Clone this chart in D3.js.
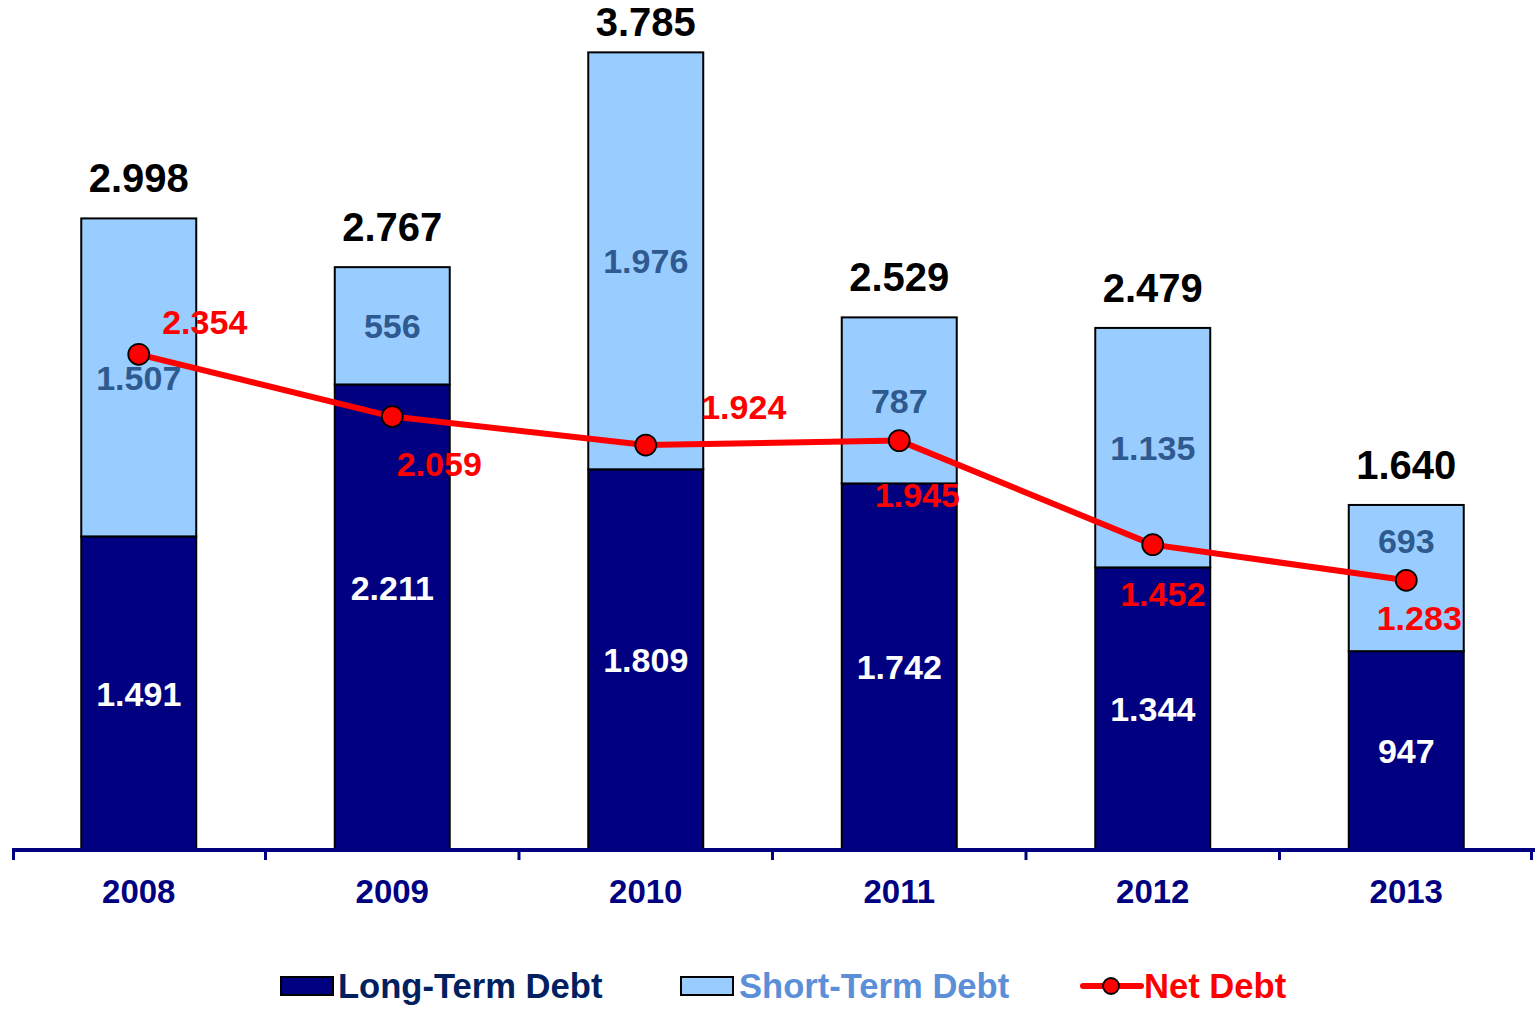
<!DOCTYPE html>
<html>
<head>
<meta charset="utf-8">
<script src="https://cdn.jsdelivr.net/npm/d3@7"></script>
<style>
  html, body { margin: 0; padding: 0; background: #ffffff; }
  svg { display: block; font-family: "Liberation Sans", Arial, Helvetica, sans-serif; font-weight: bold; }
</style>
</head>
<body>
<svg id="chart" width="1537" height="1009"></svg>
<script>
// Debt structure by year (values in millions, shown with "." thousands separator)
const years = ["2008", "2009", "2010", "2011", "2012", "2013"];
const longTermDebt = [1491, 2211, 1809, 1742, 1344, 947];
const shortTermDebt = [1507, 556, 1976, 787, 1135, 693];
const totalDebt = [2998, 2767, 3785, 2529, 2479, 1640];
const netDebt = [2354, 2059, 1924, 1945, 1452, 1283];

// Label placement tweaks (pixels): net debt labels relative to each marker,
// and vertical nudges for segment labels that would collide with the line
const netLabelOffsets = [[66, -33], [47, 47], [98, -38], [18, 54], [10, 49], [13, 37]];
const longLabelNudge = [0, -30, 0, 0, 0, 0];
const shortLabelNudge = [0, 0, 0, 0, 0, -37];

const colors = {
  longTerm: "#000080",
  shortTerm: "#99CCFF",
  net: "#FF0000",
  axis: "#000080",
  shortLabel: "#2F5A8F",
  legendLong: "#002060",
  legendShort: "#5B8FD8"
};

const locale = d3.formatLocale({ decimal: ",", thousands: ".", grouping: [3], currency: ["", ""] });
const fmt = locale.format(",d");

const svg = d3.select("#chart");
const baseY = 851;

const x = d3.scaleBand()
  .domain(years)
  .range([12, 1533])
  .paddingInner(0.5464)
  .paddingOuter(0.2732);

const y = d3.scaleLinear()
  .domain([0, 4000])
  .range([baseY, baseY - 844]);

const rows = years.map((yr, i) => ({
  year: yr,
  lt: longTermDebt[i],
  st: shortTermDebt[i],
  total: totalDebt[i],
  net: netDebt[i],
  off: netLabelOffsets[i],
  ltNudge: longLabelNudge[i],
  stNudge: shortLabelNudge[i]
}));

const cx = d => x(d.year) + x.bandwidth() / 2;

// Stacked bars
const bars = svg.append("g");
bars.selectAll("rect.lt").data(rows).join("rect")
  .attr("class", "lt")
  .attr("x", d => x(d.year))
  .attr("width", x.bandwidth())
  .attr("y", d => y(d.lt))
  .attr("height", d => y(0) - y(d.lt))
  .attr("fill", colors.longTerm)
  .attr("stroke", "#000")
  .attr("stroke-width", 2);

bars.selectAll("rect.st").data(rows).join("rect")
  .attr("class", "st")
  .attr("x", d => x(d.year))
  .attr("width", x.bandwidth())
  .attr("y", d => y(d.lt + d.st))
  .attr("height", d => y(d.lt) - y(d.lt + d.st))
  .attr("fill", colors.shortTerm)
  .attr("stroke", "#000")
  .attr("stroke-width", 2);

// Category axis: thick baseline with boundary ticks
const step = x.step();
const axisG = svg.append("g");
axisG.append("line")
  .attr("x1", 12).attr("x2", 1535)
  .attr("y1", baseY - 1).attr("y2", baseY - 1)
  .attr("stroke", colors.axis).attr("stroke-width", 4);
axisG.selectAll("line.tick").data(d3.range(years.length + 1)).join("line")
  .attr("class", "tick")
  .attr("x1", i => 12 + i * step + (i === 0 ? 1.5 : (i === years.length ? -1.5 : 0)))
  .attr("x2", i => 12 + i * step + (i === 0 ? 1.5 : (i === years.length ? -1.5 : 0)))
  .attr("y1", baseY - 1).attr("y2", baseY + 9)
  .attr("stroke", colors.axis).attr("stroke-width", 3);
axisG.selectAll("text").data(rows).join("text")
  .attr("x", cx)
  .attr("y", 903)
  .attr("text-anchor", "middle")
  .attr("font-size", 33)
  .attr("fill", colors.axis)
  .text(d => d.year);

// Segment labels
const labels = svg.append("g").attr("text-anchor", "middle").attr("font-size", 34);
labels.selectAll("text.lt").data(rows).join("text")
  .attr("class", "lt")
  .attr("x", cx)
  .attr("y", d => (y(0) + y(d.lt)) / 2 + d.ltNudge)
  .attr("dy", "0.36em")
  .attr("fill", "#ffffff")
  .text(d => fmt(d.lt));
labels.selectAll("text.st").data(rows).join("text")
  .attr("class", "st")
  .attr("x", cx)
  .attr("y", d => (y(d.lt) + y(d.lt + d.st)) / 2 + d.stNudge)
  .attr("dy", "0.36em")
  .attr("fill", colors.shortLabel)
  .text(d => fmt(d.st));
labels.selectAll("text.total").data(rows).join("text")
  .attr("class", "total")
  .attr("x", cx)
  .attr("y", d => Math.max(y(d.total) - 26, 36))
  .attr("font-size", 40)
  .attr("fill", "#000000")
  .text(d => fmt(d.total));

// Net debt line with markers
const line = d3.line().x(cx).y(d => y(d.net));
svg.append("path")
  .datum(rows)
  .attr("d", line)
  .attr("fill", "none")
  .attr("stroke", colors.net)
  .attr("stroke-width", 6)
  .attr("stroke-linejoin", "round");
svg.append("g").selectAll("circle").data(rows).join("circle")
  .attr("cx", cx)
  .attr("cy", d => y(d.net))
  .attr("r", 10.5)
  .attr("fill", colors.net)
  .attr("stroke", "#000")
  .attr("stroke-width", 1.8);
svg.append("g").selectAll("text").data(rows).join("text")
  .attr("x", d => cx(d) + d.off[0])
  .attr("y", d => y(d.net) + d.off[1])
  .attr("dy", "0.36em")
  .attr("text-anchor", "middle")
  .attr("font-size", 34)
  .attr("fill", colors.net)
  .text(d => fmt(d.net));

// Legend
const legend = svg.append("g").attr("font-size", 34.6);
legend.append("rect").attr("x", 281).attr("y", 977).attr("width", 52).attr("height", 18)
  .attr("fill", colors.longTerm).attr("stroke", "#000").attr("stroke-width", 2);
legend.append("text").attr("x", 338).attr("y", 998).attr("fill", colors.legendLong).text("Long-Term Debt");
legend.append("rect").attr("x", 681).attr("y", 977).attr("width", 52).attr("height", 18)
  .attr("fill", colors.shortTerm).attr("stroke", "#000").attr("stroke-width", 2);
legend.append("text").attr("x", 739).attr("y", 998).attr("fill", colors.legendShort).text("Short-Term Debt");
legend.append("line").attr("x1", 1083).attr("x2", 1141).attr("y1", 986).attr("y2", 986)
  .attr("stroke", colors.net).attr("stroke-width", 6).attr("stroke-linecap", "round");
legend.append("circle").attr("cx", 1111).attr("cy", 986).attr("r", 8)
  .attr("fill", colors.net).attr("stroke", "#000").attr("stroke-width", 1.8);
legend.append("text").attr("x", 1144).attr("y", 998).attr("fill", colors.net).text("Net Debt");
</script>
</body>
</html>
